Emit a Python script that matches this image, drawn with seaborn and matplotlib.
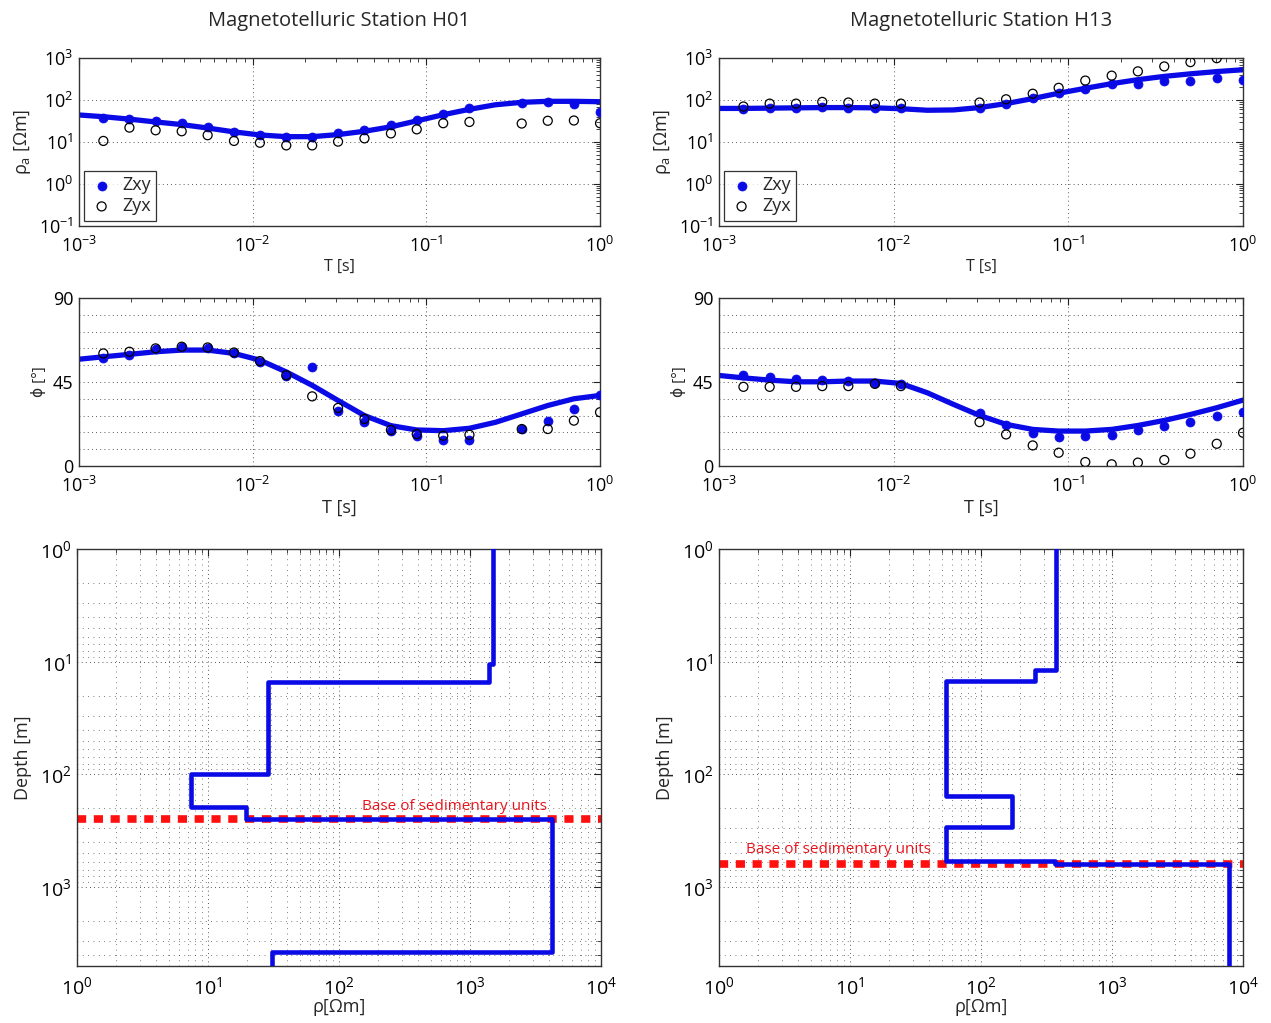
import numpy as np
import matplotlib
matplotlib.use('Agg')
import matplotlib.pyplot as plt
import matplotlib.ticker as mticker
import seaborn as sns

sns.set_theme(style='white')
plt.rcParams['font.family'] = ['Open Sans', 'DejaVu Sans']
plt.rcParams['mathtext.fontset'] = 'custom'
plt.rcParams['mathtext.rm'] = 'Open Sans'
plt.rcParams['axes.unicode_minus'] = False

BLUE = '#0a0ae6'
RED = '#ff1010'

# periods of the observed data [s]
periods = [0.00138, 0.00195, 0.00276, 0.0039, 0.0055, 0.0078, 0.011, 0.0156, 0.022, 0.031,
           0.044, 0.0625, 0.088, 0.125, 0.177, 0.25, 0.354, 0.5, 0.707, 1.0]
# periods of the model response curves [s]
model_periods = [0.001, 0.00138, 0.00195, 0.00276, 0.0039, 0.0055, 0.0078, 0.011, 0.0156, 0.022,
                 0.031, 0.044, 0.0625, 0.088, 0.125, 0.177, 0.25, 0.354, 0.5, 0.707, 1.0]

nan = np.nan

# ---- Station H01 ----
h01_rho_xy = [37, 35, 32, 28, 23, 17, 15, 13.4, 13, 16, 19, 26, 33, 46, 63, nan, 85, 91, 79, 53]
h01_rho_yx = [10.6, 22, 19, 18, 14.5, 10.6, 9.6, 8.3, 8.3, 10.2, 12.2, 16, 20, 28, 30, nan, 27.5, 32, 32.5, 28]
h01_rho_model = [44, 40, 35, 30, 26, 21.5, 17.4, 14.7, 13.4, 13.4, 15, 18, 23, 31.8, 44.6, 60, 77, 88, 93, 93, 91]
h01_phi_xy = [57.6, 59.4, 62.5, 63.5, 63, 60.3, 55.8, 48, 53.1, 29.3, 23.4, 18.9, 16.2, 14, 14, nan, 19.8, 24.3, 30.6, 37.8]
h01_phi_yx = [60.3, 61.2, 63, 63.9, 63.5, 60.8, 56.2, 48.6, 37.3, 31.1, 25.2, 19.3, 17.1, 16.2, 16.7, nan, 19.8, 19.8, 24.3, 28.8]
h01_phi_model = [57.2, 58.5, 59.8, 61.2, 62.1, 62.1, 60.3, 56.7, 50.4, 43.2, 35.1, 27, 21.6, 19.3, 18.9, 20.2, 23.4, 27.9, 32.4, 36, 37.8]
h01_layer_top = [1, 10.4, 15, 100, 196, 250, 3730]
h01_layer_bottom = [10.4, 15, 100, 196, 250, 3730, 5000]
h01_layer_rho = [1500, 1400, 28.6, 7.4, 19.5, 4220, 30.8]
h01_sed_base = 250

# ---- Station H13 ----
h13_rho_xy = [60, 66, 63, 68, 66, 63, 66, nan, nan, 66, 82, 109, 144, 185, 234, 234, 280, 290, 335, 306]
h13_rho_yx = [70, 82, 82, 90, 87, 82, 82, nan, nan, 87, 104, 141, 195, 290, 380, 481, 630, 798, 990, nan]
h13_rho_model = [63, 63, 64, 65, 66, 66, 65, 62, 57, 58, 66, 82, 108, 145, 190, 245, 305, 365, 420, 475, 525]
h13_phi_xy = [48.5, 47.8, 46.7, 46, 45.5, 44.6, 43.7, nan, nan, 28.2, 21.7, 17.8, 15.7, 16, 16.4, 19.3, 21.4, 23.5, 26.7, 28.9]
h13_phi_yx = [42.4, 42.4, 42.4, 42.8, 42.8, 44, 42.8, nan, nan, 23.5, 16.9, 11, 7.1, 2.1, 0.9, 1.8, 3.2, 6.6, 11.9, 17.8]
h13_phi_model = [48.5, 47.2, 46, 45.1, 45.1, 45.5, 45.5, 44.2, 39.2, 33, 27.1, 22.3, 19.6, 18.7, 18.7, 19.6, 21.7, 24.4, 27.6, 31.2, 35.3]
h13_layer_top = [1, 11.8, 14.7, 156, 291, 586, 628]
h13_layer_bottom = [11.8, 14.7, 156, 291, 586, 628, 5000]
h13_layer_rho = [375, 258, 54.4, 171, 54.4, 368, 7800]
h13_sed_base = 620

GRID = dict(color='#222222', linestyle=(0, (1, 4)), linewidth=0.6)
MINOR_GRID = dict(color='#333333', linestyle=(0, (1, 6)), linewidth=0.55)


def style_axes(ax, size=13):
    ax.tick_params(which='both', direction='in', top=True, right=True, colors='#222222',
                   labelsize=size, labelcolor='black')
    ax.tick_params(which='major', length=5, width=0.8)
    ax.tick_params(which='minor', length=3, width=0.6)
    ax.tick_params(axis='x', which='major', pad=7)
    ax.tick_params(axis='y', which='major', pad=4)
    for s in ax.spines.values():
        s.set_color('#333333')
        s.set_linewidth(1.0)


def rho_panel(ax, rho_xy, rho_yx, rho_model):
    ax.set_xscale('log')
    ax.set_yscale('log')
    sns.lineplot(x=model_periods, y=rho_model, ax=ax, color=BLUE, linewidth=3.8, zorder=2)
    sns.scatterplot(x=periods, y=rho_xy, ax=ax, color=BLUE, edgecolor=BLUE, s=42, zorder=3, label='Zxy')
    sns.scatterplot(x=periods, y=rho_yx, ax=ax, marker='o', facecolor='none', edgecolor='black',
                    linewidth=0.9, s=42, zorder=4, label='Zyx')
    ax.set_xlim(1e-3, 1)
    ax.set_ylim(1e-1, 1e3)
    ax.yaxis.set_major_locator(mticker.LogLocator(base=10, numticks=10))
    ax.grid(True, which='major', **GRID)
    ax.set_xlabel('T [s]', fontsize=11.5, labelpad=2)
    ax.set_ylabel(r'ρ$_\mathregular{a}$ [Ωm]', fontsize=13, labelpad=4)
    leg = ax.legend(loc='lower left', fontsize=13, frameon=True, fancybox=False, handletextpad=0.5,
                    borderaxespad=0.3, borderpad=0.3, labelspacing=0.15, handlelength=1.3)
    leg.get_frame().set_edgecolor('black')
    leg.get_frame().set_linewidth(0.9)
    style_axes(ax)


def phase_panel(ax, phi_xy, phi_yx, phi_model):
    ax.set_xscale('log')
    sns.lineplot(x=model_periods, y=phi_model, ax=ax, color=BLUE, linewidth=3.8, zorder=2)
    sns.scatterplot(x=periods, y=phi_xy, ax=ax, color=BLUE, edgecolor=BLUE, s=42, zorder=3, legend=False)
    sns.scatterplot(x=periods, y=phi_yx, ax=ax, marker='o', facecolor='none', edgecolor='black',
                    linewidth=0.9, s=42, zorder=4, legend=False)
    ax.set_xlim(1e-3, 1)
    ax.set_ylim(0, 90)
    ax.set_yticks([0, 45, 90])
    ax.yaxis.set_minor_locator(mticker.MultipleLocator(9))
    ax.grid(True, which='major', axis='x', **GRID)
    ax.grid(True, which='both', axis='y', **GRID)
    ax.set_xlabel('T [s]', fontsize=13, labelpad=2)
    ax.set_ylabel('ϕ [°]', fontsize=11, labelpad=4)
    style_axes(ax)


def model_panel(ax, tops, bottoms, rhos, sed_base, text_x, text_depth):
    ax.set_xscale('log')
    ax.set_yscale('log')
    step_rho, step_depth = [], []
    for top, bot, r in zip(tops, bottoms, rhos):
        step_rho += [r, r]
        step_depth += [top, bot]
    ax.axhline(sed_base, color=RED, linewidth=5.5, linestyle=(0, (1.2, 1.0)), zorder=2)
    sns.lineplot(x=step_rho, y=step_depth, ax=ax, color=BLUE, linewidth=3.3, sort=False,
                 estimator=None, zorder=3)
    ax.text(text_x, text_depth, 'Base of sedimentary units', color='#e8141c', fontsize=11,
            ha='left', va='bottom', zorder=4)
    ax.set_xlim(1, 1e4)
    ax.set_ylim(5000, 1)
    ax.xaxis.set_major_locator(mticker.LogLocator(base=10, numticks=10))
    ax.yaxis.set_major_locator(mticker.LogLocator(base=10, numticks=10))
    ax.grid(True, which='major', **GRID)
    ax.grid(True, which='minor', **MINOR_GRID)
    ax.set_xlabel('ρ[Ωm]', fontsize=13, labelpad=0)
    ax.set_ylabel('Depth [m]', fontsize=13, labelpad=6)
    style_axes(ax, size=14)


fig = plt.figure(figsize=(12.71, 10.23), dpi=100)
ax_r1 = fig.add_axes([0.0622, 0.7791, 0.4099, 0.1642])
ax_r2 = fig.add_axes([0.5657, 0.7791, 0.4123, 0.1642])
ax_p1 = fig.add_axes([0.0622, 0.5445, 0.4099, 0.1642])
ax_p2 = fig.add_axes([0.5657, 0.5445, 0.4123, 0.1642])
ax_m1 = fig.add_axes([0.0606, 0.0557, 0.4123, 0.4076])
ax_m2 = fig.add_axes([0.5657, 0.0557, 0.4123, 0.4076])

rho_panel(ax_r1, h01_rho_xy, h01_rho_yx, h01_rho_model)
rho_panel(ax_r2, h13_rho_xy, h13_rho_yx, h13_rho_model)
phase_panel(ax_p1, h01_phi_xy, h01_phi_yx, h01_phi_model)
phase_panel(ax_p2, h13_phi_xy, h13_phi_yx, h13_phi_model)
model_panel(ax_m1, h01_layer_top, h01_layer_bottom, h01_layer_rho, h01_sed_base, 150, 225)
model_panel(ax_m2, h13_layer_top, h13_layer_bottom, h13_layer_rho, h13_sed_base, 1.6, 540)

ax_r1.set_title('Magnetotelluric Station H01', fontsize=14.5, pad=23)
ax_r2.set_title('Magnetotelluric Station H13', fontsize=14.5, pad=23)

fig.savefig('out.png', dpi=100, facecolor='white')
